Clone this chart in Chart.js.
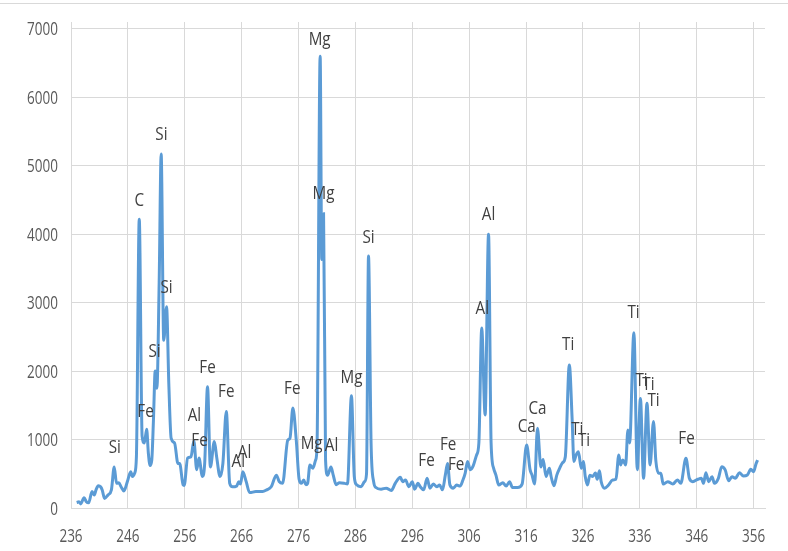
<!DOCTYPE html>
<html>
<head>
<meta charset="utf-8">
<script src="https://cdn.jsdelivr.net/npm/chart.js@4.4.0/dist/chart.umd.min.js"></script>
<style>
  html, body { margin: 0; padding: 0; background: #fff; }
  #wrap { width: 788px; height: 551px; }
</style>
</head>
<body>
<div id="wrap"><canvas id="spectrum"></canvas></div>
<script>
// emission spectrum, wavelength (nm) vs intensity
const wavelength = [
  237.0, 237.4, 237.7, 238.3, 238.7, 239.1, 239.7, 240.1, 240.4, 240.8,
  241.2, 241.5, 241.9, 242.5, 243.1, 243.6, 244.0, 244.4, 244.8, 245.3,
  245.9, 246.5, 246.8, 247.2, 247.5, 248.0, 248.5, 248.9, 249.3, 249.6,
  249.9, 250.2, 250.5, 250.8, 251.1, 251.5, 251.85, 252.3, 252.8, 253.2,
  253.6, 254.2, 254.8, 255.1, 255.7, 255.9, 256.5, 257.1, 257.6, 258.1,
  258.5, 259.1, 259.5, 260.0, 260.5, 261.2, 261.6, 262.2, 262.7, 263.3,
  263.9, 264.4, 265.1, 265.5, 265.8, 266.2, 266.8, 267.4, 268.5, 269.7,
  270.4, 271.2, 272.1, 272.6, 273.2, 274.1, 274.5, 275.0, 275.6, 276.1,
  276.5, 276.9, 277.3, 277.6, 278.0, 278.5, 279.0, 279.25, 279.8, 280.08,
  280.4, 280.75, 281.1, 281.7, 282.1, 282.6, 283.2, 284.1, 284.6, 285.3,
  285.8, 286.2, 287.0, 287.6, 287.95, 288.3, 288.75, 289.2, 289.6, 290.5,
  291.4, 292.3, 293.0, 293.9, 294.3, 294.8, 295.4, 296.0, 296.4, 297.0,
  297.4, 298.0, 298.6, 299.1, 299.7, 300.3, 300.8, 301.3, 301.8, 302.2,
  302.6, 303.2, 303.8, 304.4, 304.9, 305.3, 305.7, 306.2, 306.7, 307.3,
  307.7, 308.2, 308.8, 309.4, 309.85, 310.3, 310.7, 311.2, 311.9, 312.5,
  313.1, 313.6, 314.5, 315.3, 316.1, 316.7, 317.05, 317.5, 318.0, 318.6,
  319.0, 319.5, 320.1, 320.4, 320.9, 321.4, 321.9, 322.4, 322.9, 323.6,
  324.1, 324.4, 324.8, 325.2, 325.7, 326.1, 326.4, 326.8, 327.2, 327.7,
  328.2, 328.5, 328.9, 329.2, 329.8, 330.5, 331.2, 331.8, 332.3, 332.6,
  333.0, 333.5, 333.9, 334.2, 334.95, 335.55, 336.1, 336.65, 337.25, 337.8,
  338.4, 338.8, 339.3, 339.7, 340.1, 340.9, 341.8, 342.6, 343.2, 344.1,
  344.7, 345.3, 346.2, 346.8, 347.2, 347.6, 348.1, 348.7, 349.1, 349.8,
  350.4, 351.0, 351.6, 352.2, 352.8, 353.5, 354.2, 354.9, 355.5, 356.0,
  356.4, 356.7
];
const intensity = [
  80, 90, 60, 150, 90, 75, 240, 190, 265, 325,
  310, 260, 140, 190, 265, 600, 360, 370, 310, 250,
  385, 530, 460, 510, 750, 4220, 1050, 950, 1150, 800,
  620, 700, 1300, 2000, 1750, 3300, 5170, 2450, 2940, 1800,
  1020, 950, 650, 650, 340, 330, 730, 750, 980, 560,
  730, 460, 650, 1770, 600, 970, 750, 460, 650, 1410,
  360, 310, 320, 385, 350, 530, 385, 225, 240, 240,
  265, 310, 480, 385, 360, 990, 1020, 1460, 990, 420,
  360, 410, 340, 360, 630, 580, 700, 900, 6600, 3630,
  4300, 700, 480, 600, 480, 340, 370, 360, 350, 1640,
  460, 340, 310, 385, 500, 3680, 950, 385, 300, 275,
  290, 255, 360, 450, 385, 410, 310, 385, 275, 360,
  310, 265, 435, 290, 350, 310, 335, 265, 480, 650,
  340, 290, 335, 320, 410, 510, 680, 560, 615, 775,
  950, 2630, 1360, 4000, 950, 580, 480, 335, 370, 320,
  385, 300, 300, 350, 920, 560, 480, 350, 1165, 600,
  710, 460, 580, 460, 325, 480, 580, 660, 750, 2090,
  1290, 680, 775, 820, 580, 680, 460, 335, 480, 460,
  510, 420, 545, 385, 290, 335, 410, 420, 775, 630,
  700, 630, 1140, 950, 2560, 560, 1600, 434, 1530, 630,
  1265, 700, 507, 507, 350, 385, 350, 410, 360, 726,
  434, 385, 420, 434, 360, 516, 385, 458, 360, 434,
  604, 556, 399, 458, 434, 516, 468, 482, 565, 531,
  640, 700
];

const xTicks = [236, 246, 256, 266, 276, 286, 296, 306, 316, 326, 336, 346, 356];
const yTicks = [0, 1000, 2000, 3000, 4000, 5000, 6000, 7000];

// element names written beside the lines
const lineNames = ['Si', 'C', 'Si', 'Si', 'Si', 'Fe', 'Al', 'Fe', 'Fe', 'Fe',
  'Al', 'Al', 'Fe', 'Mg', 'Al', 'Mg', 'Mg', 'Mg', 'Si', 'Fe',
  'Fe', 'Fe', 'Al', 'Al', 'Ca', 'Ca', 'Ti', 'Ti', 'Ti', 'Ti',
  'Ti', 'Ti', 'Ti', 'Fe'];
const lineX = [243.7, 248.0, 251.9, 252.8, 250.7, 249.1, 257.7, 258.6, 260.0, 263.3,
  266.5, 265.4, 274.9, 278.3, 281.8, 279.7, 280.4, 285.3, 288.3, 298.5,
  302.3, 303.7, 308.3, 309.4, 316.1, 318.0, 323.4, 325.0, 326.2, 334.9,
  336.3, 337.5, 338.4, 344.2];
const lineY = [905, 4518, 5480, 3250, 2310, 1435, 1375, 1010, 2075, 1725,
  835, 700, 1770, 965, 935, 6870, 4620, 1930, 3975, 715,
  950, 660, 2940, 4315, 1215, 1475, 2410, 1170, 1010, 2880,
  1885, 1830, 1595, 1040];

const gridColor = '#d9d9d9';

function narrowText(ctx, text, x, y, squeeze, align) {
  ctx.save();
  ctx.translate(x, y);
  ctx.scale(squeeze, 1);
  ctx.textAlign = align;
  ctx.textBaseline = 'alphabetic';
  ctx.fillText(text, 0, 0);
  ctx.restore();
}

const textPlugin = {
  id: 'spectrumText',
  afterDatasetsDraw(chart) {
    const ctx = chart.ctx;
    const xs = chart.scales.x;
    const ys = chart.scales.y;
    ctx.save();
    ctx.fillStyle = '#404040';
    ctx.font = '19px "Open Sans"';
    lineNames.forEach((name, i) => {
      narrowText(ctx, name, xs.getPixelForValue(lineX[i]), ys.getPixelForValue(lineY[i]) + 7, 0.8, 'center');
    });
    ctx.restore();
  },
  afterDraw(chart) {
    const ctx = chart.ctx;
    const xs = chart.scales.x;
    const ys = chart.scales.y;
    ctx.save();
    ctx.fillStyle = '#595959';
    ctx.font = '18px "Open Sans"';
    xs.ticks.forEach(t => {
      narrowText(ctx, String(t.value), xs.getPixelForValue(t.value), 542, 0.75, 'center');
    });
    ys.ticks.forEach(t => {
      narrowText(ctx, String(t.value), 58, ys.getPixelForValue(t.value) + 6.5, 0.75, 'right');
    });
    // outer frame line along the top
    ctx.strokeStyle = gridColor;
    ctx.lineWidth = 1;
    ctx.beginPath();
    ctx.moveTo(0, 3.5);
    ctx.lineTo(chart.width, 3.5);
    ctx.stroke();
    ctx.restore();
  }
};

new Chart(document.getElementById('spectrum'), {
  type: 'line',
  data: {
    datasets: [{
      data: wavelength.map((w, i) => ({ x: w, y: intensity[i] })),
      borderColor: '#5b9bd5',
      borderWidth: 3,
      pointRadius: 0,
      fill: false,
      cubicInterpolationMode: 'monotone'
    }]
  },
  plugins: [textPlugin],
  options: {
    responsive: true,
    maintainAspectRatio: false,
    animation: false,
    layout: { padding: { top: 22, right: 23, left: 0, bottom: 0 } },
    plugins: {
      legend: { display: false },
      tooltip: { enabled: false }
    },
    scales: {
      x: {
        type: 'linear',
        min: 236,
        max: 358,
        afterBuildTicks: s => { s.ticks = xTicks.map(v => ({ value: v })); },
        afterFit: s => { s.height = 43; },
        ticks: { display: false },
        grid: { color: gridColor, drawTicks: false },
        border: { color: gridColor }
      },
      y: {
        min: 0,
        max: 7100,
        afterBuildTicks: s => { s.ticks = yTicks.map(v => ({ value: v })); },
        afterFit: s => { s.width = 71; },
        ticks: { display: false },
        grid: { color: gridColor, drawTicks: false },
        border: { color: gridColor }
      }
    }
  }
});
</script>
</body>
</html>
